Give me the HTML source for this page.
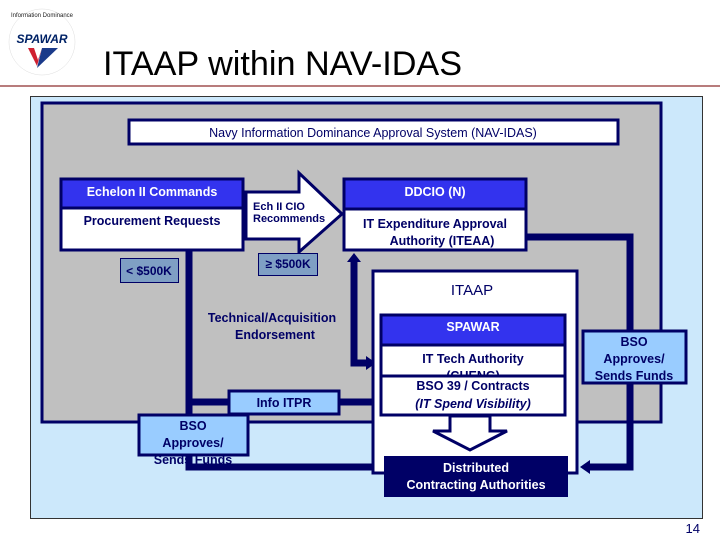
<!DOCTYPE html>
<html><head><meta charset="utf-8"><style>
html,body{margin:0;padding:0;background:#fff;width:720px;height:540px;overflow:hidden}
svg{display:block}
text{font-family:"Liberation Sans",Arial,sans-serif}
</style></head><body>
<svg width="720" height="540" viewBox="0 0 720 540" xmlns="http://www.w3.org/2000/svg">
<!-- logo -->
<circle cx="42" cy="42" r="33" fill="#fff" stroke="#ddd" stroke-width="0.5"/>
<text x="42" y="17" font-size="6" text-anchor="middle" fill="#222">Information Dominance</text>
<text x="42" y="43" font-size="12" font-weight="bold" font-style="italic" text-anchor="middle" fill="#002266">SPAWAR</text>
<path d="M28,48 L42,48 L37,66 Z" fill="#d02030"/>
<path d="M42,48 L58,48 L37,68 Z" fill="#1a3a8a"/>
<path d="M34,48 L42,48 L38,60 Z" fill="#fff"/>
<text x="103" y="75" font-size="34" fill="#000" textLength="359" lengthAdjust="spacingAndGlyphs">ITAAP within NAV-IDAS</text>
<line x1="0" y1="86" x2="720" y2="86" stroke="#a05050" stroke-width="1.5"/>
<!-- outer -->
<rect x="30.5" y="96.5" width="672" height="422" fill="#cce8fb" stroke="#333" stroke-width="1"/>
<rect x="42" y="103" width="619" height="319" fill="#c0c0c0" stroke="#000066" stroke-width="3"/>
<!-- NAV-IDAS -->
<rect x="129" y="120" width="489" height="24" fill="#fff" stroke="#000066" stroke-width="3"/>
<text x="373" y="137" font-size="12.5" text-anchor="middle" fill="#000066">Navy Information Dominance Approval System (NAV-IDAS)</text>
<!-- connectors -->
<g stroke="#000066" stroke-width="7" fill="none">
<path d="M189,250 L189,467 L378,467"/>
<path d="M189,402 L378,402"/>
<path d="M354,262 L354,363 L368,363"/>
<path d="M527,237 L630,237 L630,467 L588,467"/>
</g>
<g fill="#000066">
<path d="M376,460 L386,467 L376,474 Z"/>
<path d="M376,395 L386,402 L376,409 Z"/>
<path d="M366,356 L376,363 L366,370 Z"/>
<path d="M347,262 L354,253 L361,262 Z"/>
<path d="M590,460 L580,467 L590,474 Z"/>
</g>
<!-- Echelon -->
<rect x="61" y="179" width="182" height="71" fill="#fff" stroke="#000066" stroke-width="3"/>
<rect x="61" y="179" width="182" height="29" fill="#3333ee" stroke="#000066" stroke-width="3"/>
<text x="152" y="196" font-size="12.5" font-weight="bold" text-anchor="middle" fill="#fff">Echelon II Commands</text>
<text x="152" y="225" font-size="12.5" font-weight="bold" text-anchor="middle" fill="#000066">Procurement Requests</text>
<!-- Arrow -->
<path d="M246,192 L299,192 L299,173 L342,214 L299,252 L299,239 L246,239 Z" fill="#fff" stroke="#000066" stroke-width="3"/>
<text x="253" y="210" font-size="11" font-weight="bold" fill="#000066">Ech II CIO</text>
<text x="253" y="222" font-size="11" font-weight="bold" fill="#000066">Recommends</text>
<!-- 500K boxes -->
<rect x="120.5" y="258.5" width="58" height="24" fill="#7f9fc4" stroke="#000066" stroke-width="1"/>
<text x="149" y="275" font-size="12" font-weight="bold" text-anchor="middle" fill="#000066">&lt; $500K</text>
<rect x="258.5" y="253.5" width="59" height="22" fill="#7f9fc4" stroke="#000066" stroke-width="1"/>
<text x="288" y="268" font-size="12" font-weight="bold" text-anchor="middle" fill="#000066">≥ $500K</text>
<!-- DDCIO -->
<rect x="344" y="179" width="182" height="71" fill="#fff" stroke="#000066" stroke-width="3"/>
<rect x="344" y="179" width="182" height="30" fill="#3333ee" stroke="#000066" stroke-width="3"/>
<text x="435" y="196" font-size="12.5" font-weight="bold" text-anchor="middle" fill="#fff">DDCIO (N)</text>
<text x="435" y="228" font-size="12.5" font-weight="bold" text-anchor="middle" fill="#000066">IT Expenditure Approval</text>
<text x="442" y="245" font-size="12.5" font-weight="bold" text-anchor="middle" fill="#000066">Authority (ITEAA)</text>
<!-- tech text -->
<text x="272" y="322" font-size="12.5" font-weight="bold" text-anchor="middle" fill="#000066">Technical/Acquisition</text>
<text x="275" y="339" font-size="12.5" font-weight="bold" text-anchor="middle" fill="#000066">Endorsement</text>
<!-- ITAAP -->
<rect x="373" y="271" width="204" height="202" fill="#fff" stroke="#000066" stroke-width="3"/>
<text x="472" y="295" font-size="15" text-anchor="middle" fill="#000066">ITAAP</text>
<rect x="381" y="315" width="184" height="100" fill="#fff" stroke="#000066" stroke-width="3"/>
<rect x="381" y="315" width="184" height="30" fill="#3333ee" stroke="#000066" stroke-width="3"/>
<text x="473" y="331" font-size="12.5" font-weight="bold" text-anchor="middle" fill="#fff">SPAWAR</text>
<text x="473" y="363" font-size="12.5" font-weight="bold" text-anchor="middle" fill="#000066">IT Tech Authority</text>
<text x="473" y="380" font-size="12.5" font-weight="bold" text-anchor="middle" fill="#000066">(CHENG)</text>
<rect x="381" y="376" width="184" height="39" fill="#fff" stroke="#000066" stroke-width="3"/>
<text x="473" y="390" font-size="12.5" font-weight="bold" text-anchor="middle" fill="#000066">BSO 39 / Contracts</text>
<text x="473" y="408" font-size="12.5" font-weight="bold" font-style="italic" text-anchor="middle" fill="#000066">(IT Spend Visibility)</text>
<path d="M450,416 L490,416 L490,431 L507,431 L470,450 L433,431 L450,431 Z" fill="#fff" stroke="#000066" stroke-width="3"/>
<rect x="384" y="456" width="184" height="41" fill="#000066"/>
<text x="476" y="472" font-size="12.5" font-weight="bold" text-anchor="middle" fill="#fff">Distributed</text>
<text x="476" y="489" font-size="12.5" font-weight="bold" text-anchor="middle" fill="#fff">Contracting Authorities</text>
<!-- Info ITPR -->
<rect x="229" y="391" width="110" height="23" fill="#99ccff" stroke="#000066" stroke-width="3"/>
<text x="284" y="407" font-size="12.5" font-weight="bold" text-anchor="middle" fill="#000066">Info ITPR</text>
<!-- BSO left -->
<text x="193" y="464" font-size="12.5" font-weight="bold" text-anchor="middle" fill="#000066">Sends Funds</text>
<rect x="139" y="415" width="109" height="40" fill="#99ccff" stroke="#000066" stroke-width="3"/>
<text x="193" y="430" font-size="12.5" font-weight="bold" text-anchor="middle" fill="#000066">BSO</text>
<text x="193" y="447" font-size="12.5" font-weight="bold" text-anchor="middle" fill="#000066">Approves/</text>
<!-- BSO right -->
<rect x="583" y="331" width="103" height="52" fill="#99ccff" stroke="#000066" stroke-width="3"/>
<text x="634" y="346" font-size="12.5" font-weight="bold" text-anchor="middle" fill="#000066">BSO</text>
<text x="634" y="363" font-size="12.5" font-weight="bold" text-anchor="middle" fill="#000066">Approves/</text>
<text x="634" y="380" font-size="12.5" font-weight="bold" text-anchor="middle" fill="#000066">Sends Funds</text>
<text x="700" y="533" font-size="13" text-anchor="end" fill="#000066">14</text>
</svg>
</body></html>
